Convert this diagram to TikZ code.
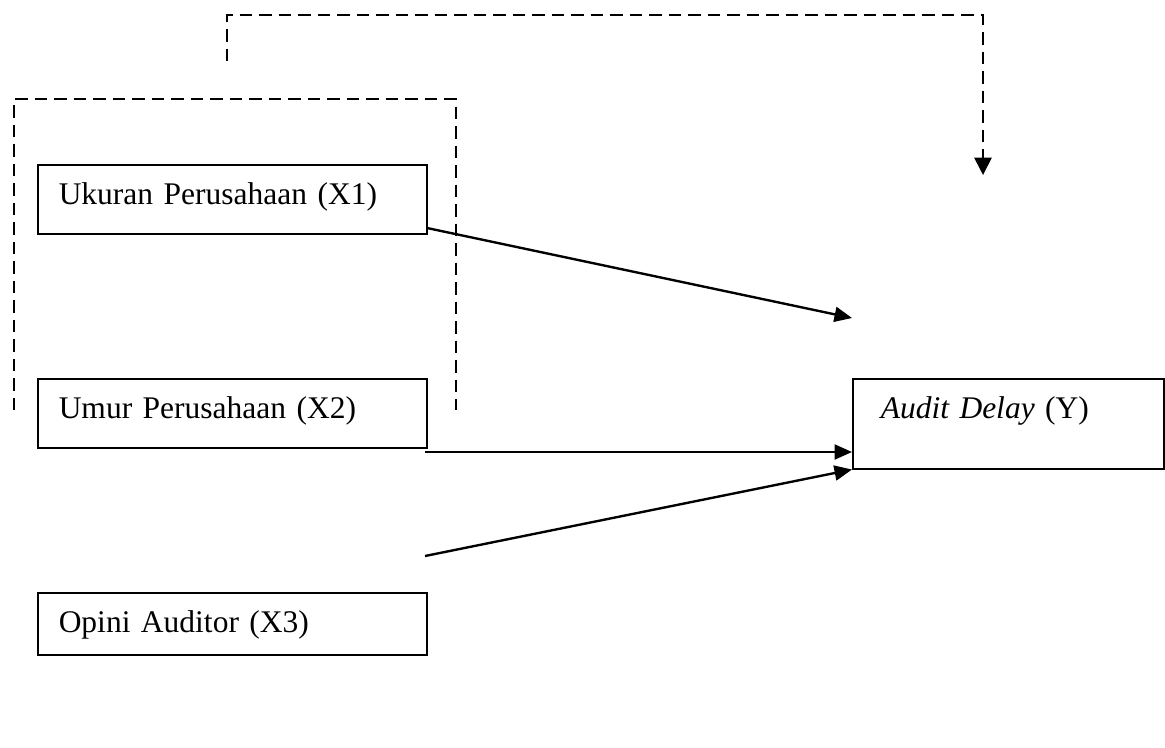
\documentclass[tikz,border=0pt]{standalone}
\usepackage{fontspec}
\setmainfont{Liberation Serif}
\usetikzlibrary{arrows.meta}
\begin{document}
\begin{tikzpicture}[x=0.4pt,y=-0.4pt,font=\fontsize{12.6}{15}\selectfont, line join=miter,
		varbox/.style={draw,line width=0.6pt,anchor=north west,inner ysep=0pt,inner xsep=8.4pt,
			text width=138.8pt,align=left,text height=16pt},
		link/.style={line width=0.95pt,-{Triangle[length=7pt,width=6pt]}},
		bracket/.style={line width=0.7pt,dash pattern=on 5pt off 2.8pt}]
				\useasboundingbox (0,0) rectangle (1165,747);
				% variabel bebas
				\node[varbox,text depth=11.6pt] (x1) at (37,164) {Ukuran Perusahaan (X1)};
				\node[varbox,text depth=11.6pt] (x2) at (37,378) {Umur Perusahaan (X2)};
				\node[varbox,text depth=8.8pt] (x3) at (37,592) {Opini Auditor (X3)};
				% variabel terikat
				\node[varbox,text depth=20pt,inner xsep=11.2pt,text width=102pt] (y) at (852,378) {\textit{Audit Delay} (Y)};
				% ujung panah
				\coordinate (s1) at (427,228);
				\coordinate (e1) at (852,318);
				\coordinate (s2) at (425,452);
				\coordinate (s3) at (425,556);
				\draw[link] (s1)--(e1);
				\draw[link] (s2)--(y.west|-s2);
				\draw[link] (s3)--(y.south west);
				% garis putus-putus
				\coordinate (b1) at (14,410);
				\coordinate (b2) at (456,410);
				\draw[bracket] (b1)--(14,99)--(456,99)--(b2);
				\coordinate (c1) at (227,61);
				\coordinate (c2) at (983,175);
				\draw[bracket,-{Triangle[length=7pt,width=7pt]}] (c1)--(227,15)--(983,15)--(c2);
			\end{tikzpicture}
\end{document}
